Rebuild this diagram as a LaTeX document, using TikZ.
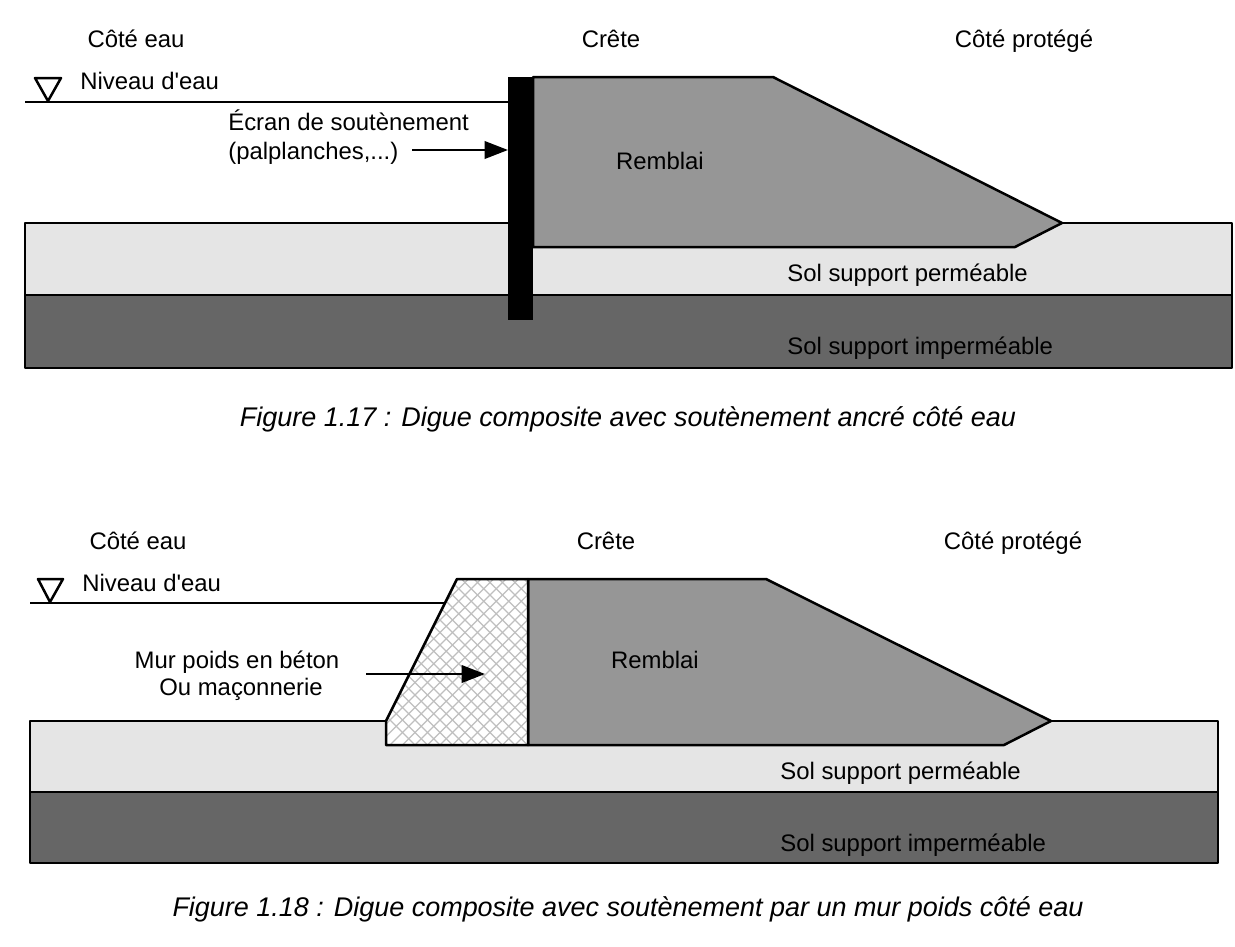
\documentclass[tikz,border=0pt]{standalone}
\usepackage{fontspec}
\setmainfont{Liberation Sans}
\newfontfamily\droit{Liberation Sans}
\usetikzlibrary{arrows.meta}
\definecolor{solclair}{HTML}{E5E5E5}
\definecolor{solfonce}{HTML}{666666}
\definecolor{remblai}{HTML}{969696}
\tikzset{
  trait/.style={draw=black,line width=0.05cm,line join=round},
  fleche/.style={line width=0.05cm,-{Triangle[length=0.47cm,width=0.35cm]}},
  txt/.style={inner sep=0pt,text height=10.6pt,text depth=1pt,font=\fontsize{13.6}{16}\selectfont},
  txtg/.style={txt,anchor=west},
  legende/.style={inner sep=0pt,text height=11.6pt,text depth=1pt,font=\fontsize{15.35}{18}\selectfont\itshape}
}
\begin{document}
\begin{tikzpicture}[x=0.02cm,y=-0.02cm]
\useasboundingbox(0,0)rectangle(1235,947);
% figure 1.17
\fill[solclair](25,223)rectangle(1232,295);
\fill[solfonce](25,295)rectangle(1232,368);
\draw[trait](25,223)rectangle(1232,368);
\draw[trait](25,295)--(1232,295);
\draw[trait,fill=remblai](533,77)--(773,77)--(1062,223)--(1015,247)--(533,247)--cycle;
\fill[black](508,77)rectangle(533,320);
\draw[trait](25,102)--(508,102);
\draw[trait](35,78)--(61,78)--(48,101)--cycle;
\node[txt](coteeauA)at(136,39){Côté eau};
\node[txt](creteA)at(611,39){Crête};
\node[txt](coteprotA)at(1024,39){Côté protégé};
\node[txtg](niveauA)at(80,81){Niveau d{\droit'}eau};
\node[txtg](ecran)at(228,122){Écran de soutènement};
\node[txtg](palpl)at(228,151){(palplanches,...)};
\node[txt](remblaiA)at(660,161){Remblai};
\node[txtg](permA)at(787,273){Sol support perméable};
\node[txtg](impermA)at(787,346){Sol support imperméable};
\node[legende](legA)at(628,417){Figure 1.17 : Digue composite avec soutènement ancré côté eau};
\coordinate(departA)at(412,150);
\coordinate(murA)at(508,150);
\draw[fleche](departA)--(murA);
% figure 1.18
\fill[solclair](30,721)rectangle(1218,792);
\fill[solfonce](30,792)rectangle(1218,863);
\draw[trait](30,721)rectangle(1218,863);
\draw[trait](30,792)--(1218,792);
\draw[trait,fill=remblai](528,579)--(766,579)--(1051,721)--(1004,745)--(528,745)--cycle;
\fill[white](386,721)--(457,579)--(528,579)--(528,745)--(386,745)--cycle;
\begin{scope}
\clip(386,721)--(457,579)--(528,579)--(528,745)--(386,745)--cycle;
\foreach \x in {240,252.5,...,700}{
  \draw[gray!50,line width=0.025cm](\x,570)--++(190,190);
  \draw[gray!50,line width=0.025cm](\x,570)--++(-190,190);
}
\end{scope}
\draw[trait](386,721)--(457,579)--(528,579)--(528,745)--(386,745)--cycle;
\draw[trait](30,603)--(445,603);
\draw[trait](38,579)--(63,579)--(50,602)--cycle;
\node[txt](coteeauB)at(138,541){Côté eau};
\node[txt](creteB)at(606,541){Crête};
\node[txt](coteprotB)at(1013,541){Côté protégé};
\node[txtg](niveauB)at(82,583){Niveau d{\droit'}eau};
\node[txt](murpoids)at(237,660){Mur poids en béton};
\node[txt](maconn)at(241,687){Ou maçonnerie};
\node[txt](remblaiB)at(655,660){Remblai};
\node[txtg](permB)at(780,771){Sol support perméable};
\node[txtg](impermB)at(780,843){Sol support imperméable};
\node[legende](legB)at(628,907){Figure 1.18 : Digue composite avec soutènement par un mur poids côté eau};
\coordinate(departB)at(366,674);
\coordinate(murB)at(485,674);
\draw[fleche](departB)--(murB);
\end{tikzpicture}
\end{document}
